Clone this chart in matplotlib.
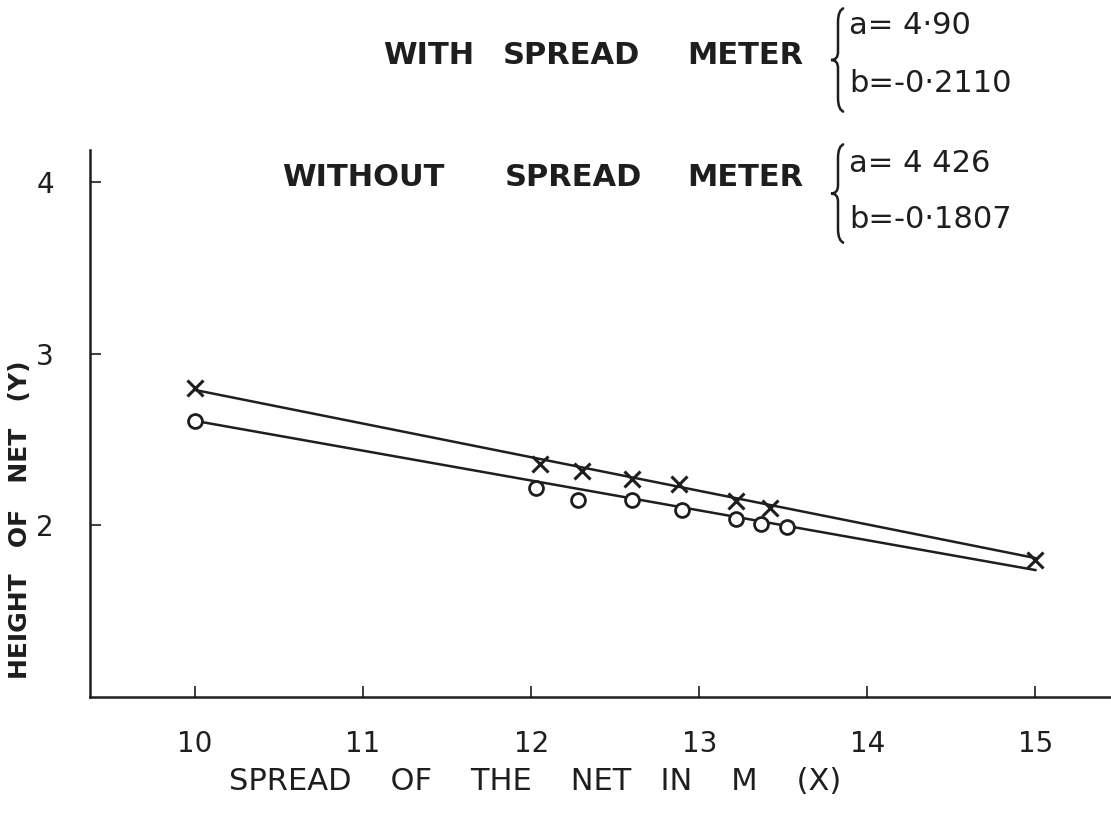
import matplotlib
matplotlib.use("Agg")
import matplotlib.pyplot as plt
from matplotlib.path import Path
from matplotlib.patches import PathPatch

# values
with_x = [10.0, 12.05, 12.3, 12.6, 12.88, 13.22, 13.42, 15.0]
with_y = [2.80, 2.36, 2.32, 2.27, 2.24, 2.14, 2.10, 1.80]
without_x = [10.0, 12.03, 12.28, 12.6, 12.9, 13.22, 13.37, 13.52]
without_y = [2.61, 2.22, 2.15, 2.15, 2.09, 2.04, 2.01, 1.99]
line_x = [10.0, 15.0]
with_line_y = [2.79, 1.81]
without_line_y = [2.61, 1.74]

x_ticks = [10, 11, 12, 13, 14, 15]
y_ticks = [2, 3, 4]

with_coef = ["a= 4·90", "b=-0·2110"]
without_coef = ["a= 4 426", "b=-0·1807"]

ink = "#1e1e1e"


def brace(ax, x, top, bottom):
    # curly brace opening to the right, in pixel coordinates
    mid = (top + bottom) / 2
    verts = [(x + 6, top), (x, top + 2), (x, top + 14),
             (x, mid - 8),
             (x, mid), (x - 7, mid),
             (x, mid), (x, mid + 8),
             (x, bottom - 14), (x, bottom - 2), (x + 6, bottom)]
    codes = [Path.MOVETO, Path.CURVE3, Path.CURVE3,
             Path.LINETO,
             Path.CURVE3, Path.CURVE3,
             Path.CURVE3, Path.CURVE3,
             Path.LINETO, Path.CURVE3, Path.CURVE3]
    ax.add_patch(PathPatch(Path(verts, codes), fill=False, lw=1.8,
                           edgecolor=ink))


def main():
    fig = plt.figure(figsize=(11.11, 8.19), dpi=100)
    ax = fig.add_axes([0.081, 0.149, 0.919, 0.668])

    ax.plot(line_x, with_line_y, color=ink, lw=1.8)
    ax.plot(line_x, without_line_y, color=ink, lw=1.8)
    ax.plot(with_x, with_y, ls="none", marker="x", ms=11, mew=2.2, color=ink)
    ax.plot(without_x, without_y, ls="none", marker="o", ms=10, mew=2.0,
            mfc="white", mec=ink)

    ax.set_xlim(9.375, 15.45)
    ax.set_ylim(1.0, 4.19)
    ax.set_xticks(x_ticks)
    ax.set_yticks(y_ticks)
    ax.tick_params(direction="in", length=8, width=1.2, color=ink,
                   labelsize=20, labelcolor=ink)
    ax.tick_params(axis="x", pad=24)
    ax.tick_params(axis="y", pad=26)
    for s in ["top", "right"]:
        ax.spines[s].set_visible(False)
    for s in ["left", "bottom"]:
        ax.spines[s].set_color(ink)
        ax.spines[s].set_linewidth(1.8)

    # overlay in pixel coordinates for the annotations
    ov = fig.add_axes([0, 0, 1, 1], facecolor="none")
    ov.set_xlim(0, 1111)
    ov.set_ylim(819, 0)
    ov.axis("off")

    ov.text(535, 782, "SPREAD    OF    THE    NET   IN    M    (X)", fontsize=22,
            color=ink, ha="center", va="center")
    ov.text(20, 520, "HEIGHT   OF   NET   (Y)", fontsize=18, color=ink,
            fontweight="bold", rotation=90, ha="center", va="center")

    kw = dict(fontsize=22, color=ink, fontweight="bold", va="center")
    ov.text(383, 56, "WITH", ha="left", **kw)
    ov.text(503, 56, "SPREAD", ha="left", **kw)
    ov.text(803, 56, "METER", ha="right", **kw)
    ov.text(282, 178, "WITHOUT", ha="left", **kw)
    ov.text(505, 178, "SPREAD", ha="left", **kw)
    ov.text(803, 178, "METER", ha="right", **kw)

    brace(ov, 838, 8, 112)
    brace(ov, 838, 144, 243)

    kv = dict(fontsize=22, color=ink, ha="left", va="center")
    ov.text(849, 26, with_coef[0], **kv)
    ov.text(849, 84, with_coef[1], **kv)
    ov.text(849, 164, without_coef[0], **kv)
    ov.text(849, 220, without_coef[1], **kv)

    fig.savefig("out.png", dpi=100)


if __name__ == "__main__":
    main()
